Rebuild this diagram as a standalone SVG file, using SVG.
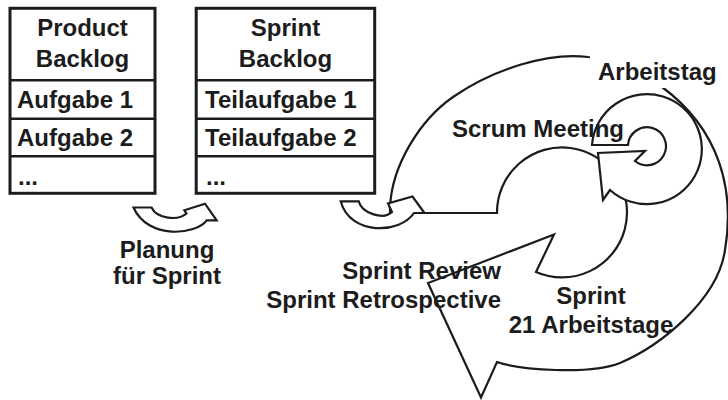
<svg xmlns="http://www.w3.org/2000/svg" width="728" height="400" viewBox="0 0 728 400">
  <style>
    .box { fill: #fff; stroke: #1c1c1c; stroke-width: 3; }
    .row { stroke: #1c1c1c; stroke-width: 2.6; }
    .shape { fill: #fff; stroke: #1c1c1c; stroke-width: 2.2; stroke-linejoin: miter; }
    text { font-family: "Liberation Sans", Arial, Helvetica, sans-serif; font-weight: bold; font-size: 24px; fill: #1c1c1c; }
    .mid { text-anchor: middle; }
    .end { text-anchor: end; }
  </style>

  <g id="product-backlog">
    <rect class="box" x="10" y="8.3" width="145" height="185"/>
    <line class="row" x1="10" y1="80.3" x2="155" y2="80.3"/>
    <line class="row" x1="10" y1="118.7" x2="155" y2="118.7"/>
    <line class="row" x1="10" y1="156.2" x2="155" y2="156.2"/>
    <text class="mid" x="82.5" y="36">Product</text>
    <text class="mid" x="82.5" y="67">Backlog</text>
    <text x="17" y="108">Aufgabe 1</text>
    <text x="17" y="146">Aufgabe 2</text>
    <text x="18" y="184.5">...</text>
  </g>

  <g id="sprint-backlog">
    <rect class="box" x="196.2" y="8.3" width="178.5" height="185"/>
    <line class="row" x1="196.2" y1="80.3" x2="374.7" y2="80.3"/>
    <line class="row" x1="196.2" y1="118.7" x2="374.7" y2="118.7"/>
    <line class="row" x1="196.2" y1="156.2" x2="374.7" y2="156.2"/>
    <text class="mid" x="285.5" y="36">Sprint</text>
    <text class="mid" x="285.5" y="67">Backlog</text>
    <text x="205" y="108">Teilaufgabe 1</text>
    <text x="205" y="146">Teilaufgabe 2</text>
    <text x="206" y="184.5">...</text>
  </g>

  <g id="sprint-cycle">
    <path class="shape" d="M390,213 L497,213 A65,65 0 1 1 536,272 L554,234.5 L428,283 L481,397.5 L497,362
      C520,370 590,375 620,363
      C660,346 718,300 725,250
      C735,190 720,130 662,87
      C640,70 610,58 588,57
      C550,52 495,68 453,97
      C420,120 392,165 390,207 Z"/>
  </g>

  <g id="daily-cycle">
    <path class="shape" d="M592,145 L628,145 A19,19 0 1 1 635,161 L645,151 L598,153 L603,200 L610,190 A55,55 0 1 0 592,145 Z"/>
  </g>

  <g id="labels">
    <rect x="590" y="52" width="134" height="36" fill="#fff"/>
    <text x="598" y="80">Arbeitstag</text>
    <text x="452" y="137">Scrum Meeting</text>
    <text class="end" x="501" y="279">Sprint Review</text>
    <text class="end" x="501" y="308">Sprint Retrospective</text>
    <text class="mid" x="591" y="304">Sprint</text>
    <text class="mid" x="591" y="333">21 Arbeitstage</text>
    <text class="mid" x="167" y="258">Planung</text>
    <text class="mid" x="167" y="284">für Sprint</text>
  </g>

  <g id="connectors">
    <path id="planning-arrow" class="shape" d="M133.5,207.5 L151.5,207.5 C157,219 178,221 186.5,213.5 L184.3,210.3 L205,203.7 L216.7,220.3 L206.7,220.3 C196,235 148,240 133.5,207.5 Z"/>
    <path id="sprint-start-arrow" class="shape" d="M340.7,201.3 L358.7,201.3 C362,214 384,220 392,212 L388,203.5 L412.5,196.5 L424.5,213 L414,213 C400,234 350,236 340.7,201.3 Z"/>
  </g>
</svg>
